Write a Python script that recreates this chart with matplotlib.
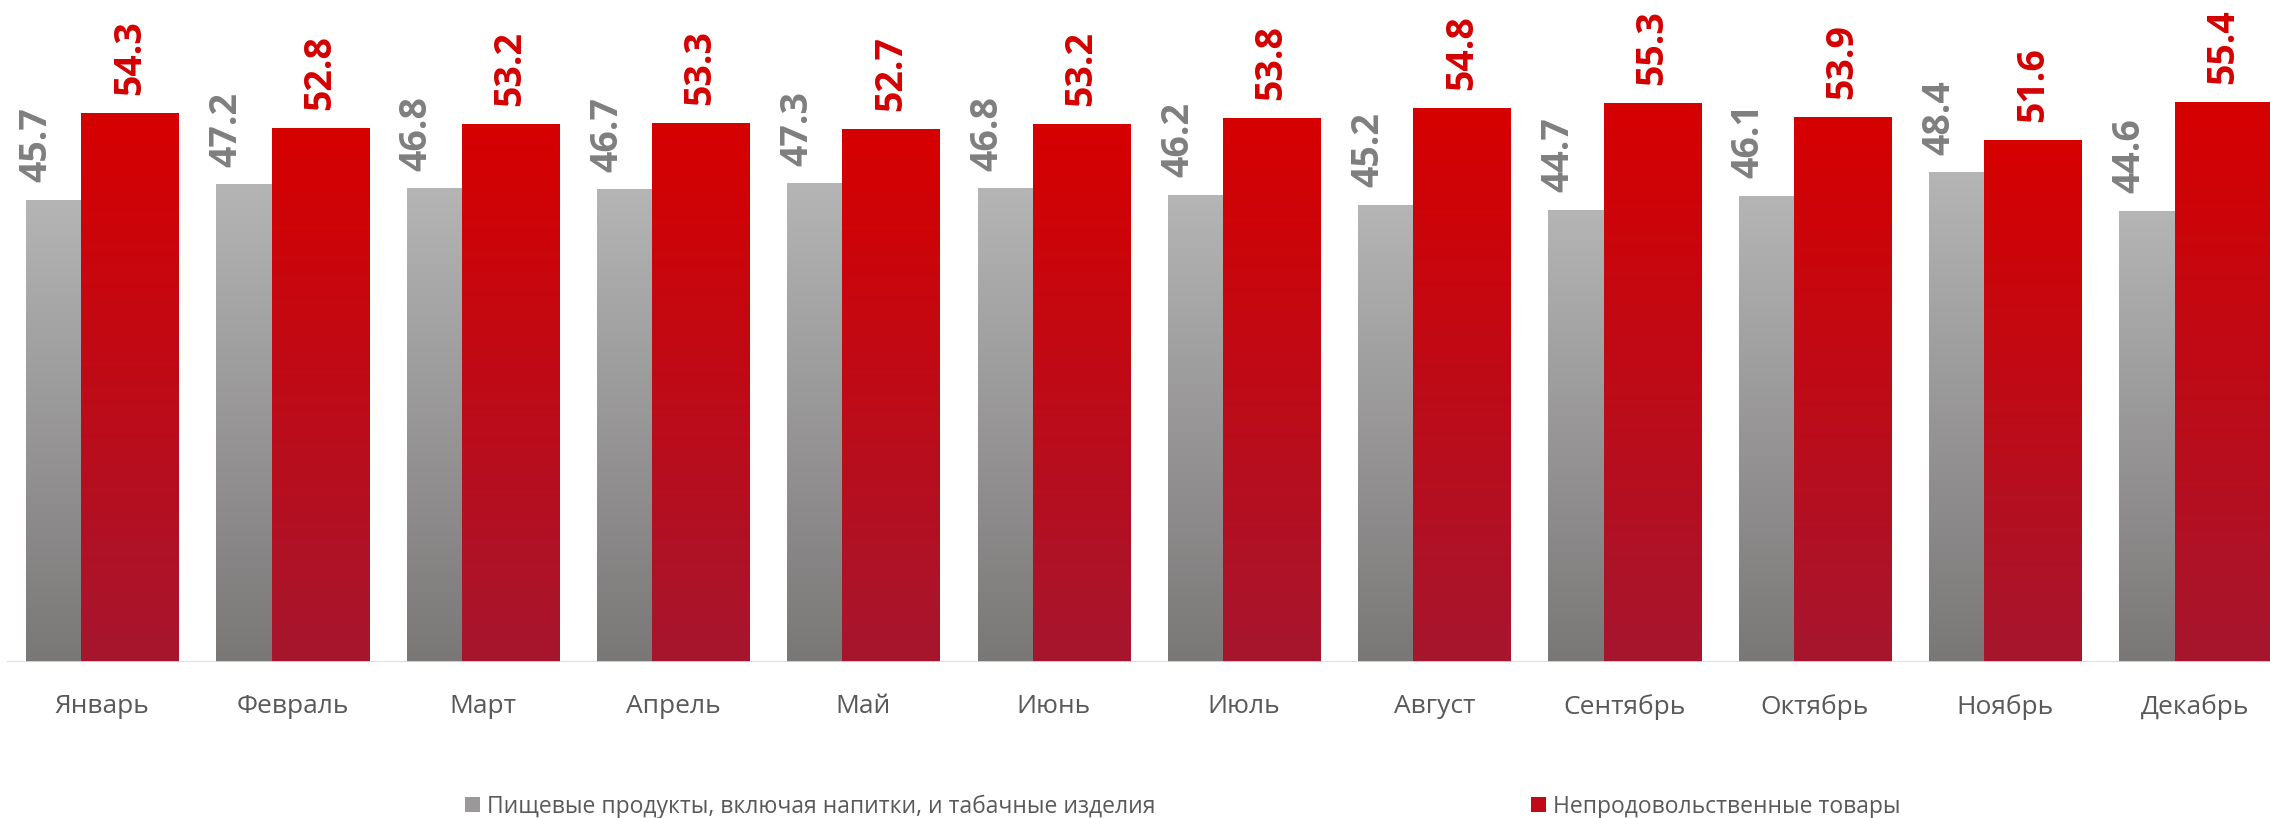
import numpy as np
import matplotlib
matplotlib.use("Agg")
import matplotlib.pyplot as plt
from matplotlib.colors import LinearSegmentedColormap
from matplotlib.patches import Patch

months = ["Январь", "Февраль", "Март", "Апрель", "Май", "Июнь",
          "Июль", "Август", "Сентябрь", "Октябрь", "Ноябрь", "Декабрь"]
food = [45.7, 47.2, 46.8, 46.7, 47.3, 46.8, 46.2, 45.2, 44.7, 46.1, 48.4, 44.6]
nonfood = [54.3, 52.8, 53.2, 53.3, 52.7, 53.2, 53.8, 54.8, 55.3, 53.9, 51.6, 55.4]
series_names = ["Пищевые продукты, включая напитки, и табачные изделия",
                "Непродовольственные товары"]

plt.rcParams['font.family'] = ['Open Sans', 'DejaVu Sans']

gray_cmap = LinearSegmentedColormap.from_list("g", ["#7a7777", "#b5b5b5"])
red_cmap = LinearSegmentedColormap.from_list("r", ["#a6162f", "#d60000"])

fig = plt.figure(figsize=(22.7, 8.18), dpi=100)
ax = fig.add_axes([7 / 2270, 156 / 818, 2263 / 2270, 657 / 818])

x = np.arange(len(months))
bw = 0.51
gray_bars = ax.bar(x - 0.4, food, width=bw, align='edge', color='none', zorder=2)
red_bars = ax.bar(x - 0.11, nonfood, width=bw, align='edge', color='none', zorder=3)

grad = np.linspace(0, 1, 256).reshape(-1, 1)


def fill_gradient(bars, cmap, z):
    # each bar gets its own top-to-bottom gradient
    for b in bars:
        x0, y0 = b.get_x(), b.get_y()
        ax.imshow(grad, cmap=cmap, origin='lower', aspect='auto',
                  extent=[x0, x0 + b.get_width(), y0, y0 + b.get_height()],
                  zorder=z, interpolation='bicubic')


fill_gradient(gray_bars, gray_cmap, 2)
fill_gradient(red_bars, red_cmap, 3)

for i in x:
    ax.annotate(f"{food[i]:.1f}", (i - 0.347, food[i]), xytext=(0, 13),
                textcoords='offset points', rotation=90, ha='center', va='bottom',
                fontsize=27, fontweight='bold', color='#7f7f7f', zorder=5)
    ax.annotate(f"{nonfood[i]:.1f}", (i + 0.145, nonfood[i]), xytext=(0, 13),
                textcoords='offset points', rotation=90, ha='center', va='bottom',
                fontsize=27, fontweight='bold', color='#d40000', zorder=5)

ax.set_xlim(-0.5, -0.5 + 2263 / 190.3)
ax.set_ylim(0, 65)
ax.axhline(0, color='#d9d9d9', linewidth=2, zorder=4)

ax.set_xticks(x)
ax.set_xticklabels(months, fontsize=19, color='#595959')
ax.tick_params(axis='x', length=0, pad=23)
ax.set_yticks([])
for s in ax.spines.values():
    s.set_visible(False)

handles = [Patch(facecolor='#9a9898'), Patch(facecolor='#c00a18')]
fig.legend(handles, series_names, loc='center', bbox_to_anchor=(0.521, 0.014),
           ncol=2, frameon=False, fontsize=16.5, labelcolor='#595959',
           handlelength=0.65, handleheight=0.65, handletextpad=0.3,
           columnspacing=16.4)

fig.savefig("out.png", dpi=100)
